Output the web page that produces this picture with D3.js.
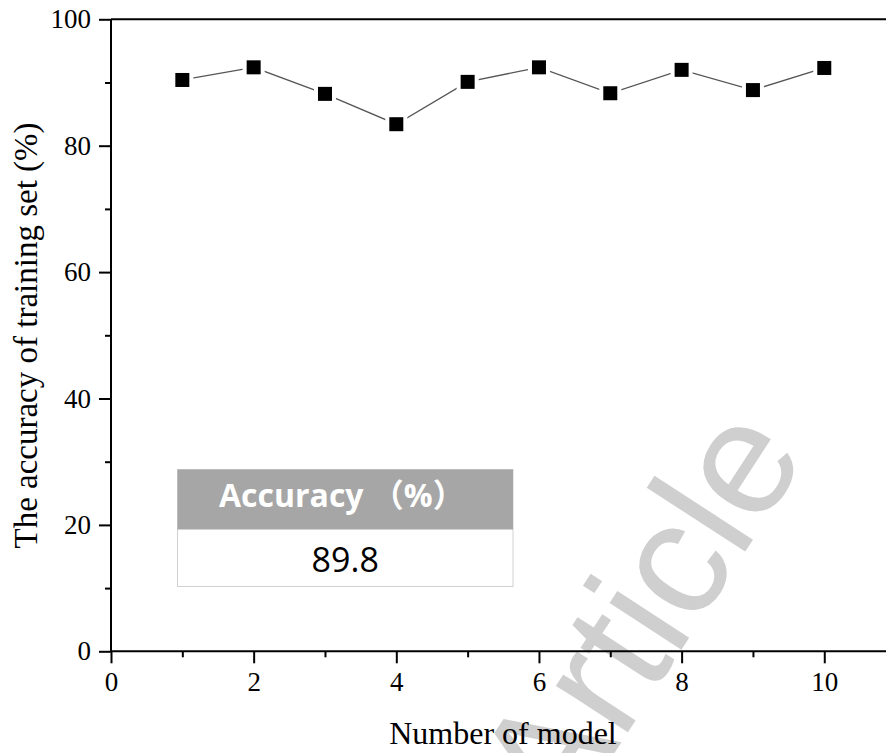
<!DOCTYPE html>
<html>
<head>
<meta charset="utf-8">
<script src="https://cdn.jsdelivr.net/npm/d3@7"></script>
<style>
  html, body { margin: 0; padding: 0; background: #fff; }
  svg { display: block; }
</style>
</head>
<body>
<svg id="chart" width="886" height="753"></svg>
<script>
// Training-set accuracy for each of the ten models
const models = [1, 2, 3, 4, 5, 6, 7, 8, 9, 10];
const accuracy = [90.4, 92.4, 88.2, 83.4, 90.1, 92.4, 88.3, 92.0, 88.8, 92.3];

const xMajorTicks = [0, 2, 4, 6, 8, 10];
const xMinorTicks = [1, 3, 5, 7, 9];
const yMajorTicks = [0, 20, 40, 60, 80, 100];
const yMinorTicks = [10, 30, 50, 70, 90];

const xTitle = "Number of model";
const yTitle = "The accuracy of training set (%)";
const tableHeader = "Accuracy （%）";
const watermark = "Article";

const W = 886, H = 753;
const svg = d3.select("#chart");

const x = d3.scaleLinear().domain([0, 11]).range([111, 895.6]);
const y = d3.scaleLinear().domain([0, 100]).range([651.3, 19.3]);

const serif = "'Liberation Serif', 'Times New Roman', serif";

// Faint diagonal watermark behind the plot
svg.append("text")
  .attr("transform", "translate(808,455) rotate(-57)")
  .attr("text-anchor", "end")
  .attr("font-family", "'Liberation Sans', Arial, sans-serif")
  .attr("font-size", 162)
  .attr("fill", "#cfcfcf")
  .text(watermark);

// Summary table of the mean accuracy
const tbl = { x0: 177.5, x1: 513, y0: 469.5, ym: 529.5, y1: 586.5 };
const meanAcc = d3.format(".1f")(d3.mean(accuracy));
const tg = svg.append("g");
tg.append("rect")
  .attr("x", tbl.x0).attr("y", tbl.y0)
  .attr("width", tbl.x1 - tbl.x0).attr("height", tbl.y1 - tbl.y0)
  .attr("fill", "#fff").attr("stroke", "#d0d0d0").attr("stroke-width", 1);
tg.append("rect")
  .attr("x", tbl.x0).attr("y", tbl.y0)
  .attr("width", tbl.x1 - tbl.x0).attr("height", tbl.ym - tbl.y0)
  .attr("fill", "#a6a6a6");
tg.append("text")
  .attr("x", 219).attr("y", 507)
  .attr("font-family", "'Open Sans', 'Noto Sans CJK SC', sans-serif")
  .attr("font-weight", "bold")
  .attr("font-size", 32)
  .attr("fill", "#fff")
  .text(tableHeader);
tg.append("text")
  .attr("x", (tbl.x0 + tbl.x1) / 2).attr("y", 572)
  .attr("text-anchor", "middle")
  .attr("font-family", "'Open Sans', sans-serif")
  .attr("font-size", 34)
  .attr("fill", "#000")
  .text(meanAcc);

// Axes
function styleAxis(g) {
  g.select(".domain").remove();
  g.selectAll(".tick line").attr("stroke", "#000").attr("stroke-width", 2);
  g.selectAll(".tick text")
    .attr("font-family", serif)
    .attr("font-size", 27)
    .attr("fill", "#000");
}

// x axis line across the full width, top frame line and y axis line
svg.append("line")
  .attr("x1", x(0)).attr("x2", W + 5)
  .attr("y1", y(0)).attr("y2", y(0))
  .attr("stroke", "#000").attr("stroke-width", 2);
svg.append("line")
  .attr("x1", x(0)).attr("x2", W + 5)
  .attr("y1", y(100)).attr("y2", y(100))
  .attr("stroke", "#000").attr("stroke-width", 2);
svg.append("line")
  .attr("x1", x(0)).attr("x2", x(0))
  .attr("y1", y(0)).attr("y2", y(100))
  .attr("stroke", "#000").attr("stroke-width", 2);

svg.append("g")
  .attr("transform", `translate(0,${y(0)})`)
  .call(d3.axisBottom(x).tickValues(xMajorTicks).tickSize(12).tickPadding(9).tickFormat(d3.format("d")))
  .call(styleAxis);
svg.append("g")
  .attr("transform", `translate(0,${y(0)})`)
  .call(d3.axisBottom(x).tickValues(xMinorTicks).tickSize(6).tickFormat(""))
  .call(styleAxis);

svg.append("g")
  .attr("transform", `translate(${x(0)},0)`)
  .call(d3.axisLeft(y).tickValues(yMajorTicks).tickSize(12).tickPadding(8).tickFormat(d3.format("d")))
  .call(styleAxis);
svg.append("g")
  .attr("transform", `translate(${x(0)},0)`)
  .call(d3.axisLeft(y).tickValues(yMinorTicks).tickSize(6).tickFormat(""))
  .call(styleAxis);

// Axis titles
svg.append("text")
  .attr("x", 503).attr("y", 744)
  .attr("text-anchor", "middle")
  .attr("font-family", serif)
  .attr("font-size", 32)
  .attr("fill", "#000")
  .text(xTitle);
svg.append("text")
  .attr("transform", "translate(37,335.5) rotate(-90)")
  .attr("text-anchor", "middle")
  .attr("font-family", serif)
  .attr("font-size", 33)
  .attr("fill", "#000")
  .text(yTitle);

// Series line and square markers
const pts = models.map((m, i) => [m, accuracy[i]]);
svg.append("path")
  .datum(pts)
  .attr("fill", "none")
  .attr("stroke", "#555")
  .attr("stroke-width", 1.3)
  .attr("d", d3.line().x(d => x(d[0])).y(d => y(d[1])));

const S = 14;
svg.append("g").selectAll("rect")
  .data(pts).join("rect")
  .attr("x", d => x(d[0]) - S / 2 - 4).attr("y", d => y(d[1]) - S / 2 - 4)
  .attr("width", S + 8).attr("height", S + 8)
  .attr("fill", "#fff");
svg.append("g").selectAll("rect")
  .data(pts).join("rect")
  .attr("x", d => x(d[0]) - S / 2).attr("y", d => y(d[1]) - S / 2)
  .attr("width", S).attr("height", S)
  .attr("fill", "#000");
</script>
</body>
</html>
